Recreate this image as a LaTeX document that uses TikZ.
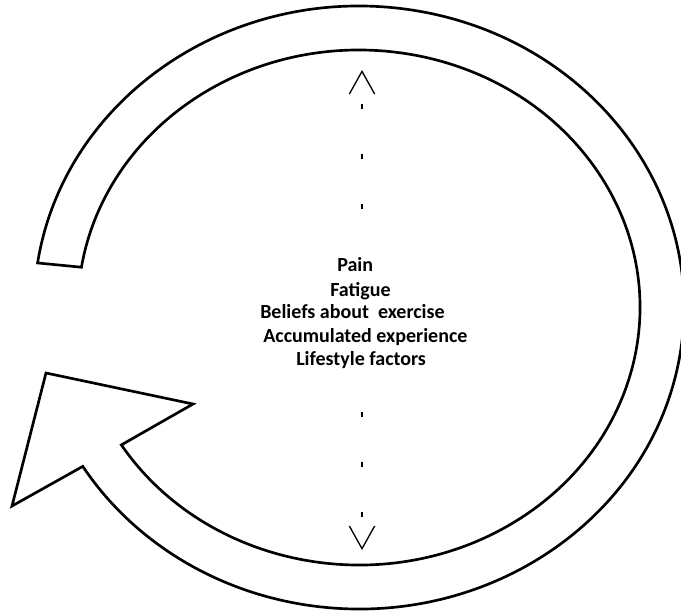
\documentclass[tikz,border=0pt]{standalone}
\usepackage{fontspec}
\setmainfont{Carlito}
\usepackage{xcolor}
\usepackage{tikz}
\usetikzlibrary{arrows.meta,calc}
\tikzset{
  ring/.style={draw=black, line width=2pt, line join=miter, fill=white},
  factor/.style={anchor=base west, inner sep=0pt, font=\fontsize{15}{18}\selectfont\bfseries},
  dasharrow/.style={-{Straight Barb[length=17pt, width=19pt, line width=1pt]}, draw=black, line width=0.9pt, dash pattern=on 4pt off 33.5pt}
}

\begin{document}
\begin{tikzpicture}[x=0.75pt, y=-0.75pt]
\useasboundingbox (0,0) rectangle (681,611);
\coordinate (ctr) at (359,307.5);
% circular arrow
\draw[ring] ($(ctr)+(188.5:325 and 301.5)$)
  arc[start angle=188.5, end angle=508.2, x radius=325, y radius=301.5]
  -- (12,506) -- (46,373) -- (193,404)
  -- ($(ctr)+(147.75:281 and 257.5)$)
  arc[start angle=147.75, end angle=-171, x radius=281, y radius=257.5]
  -- cycle;
% factors
\node[factor] (pain) at (337,271) {Pain};
\node[factor] (fatigue) at (330,296) {Fatigue};
\node[factor] (beliefs) at (260,318) {Beliefs about~ exercise};
\node[factor] (accum) at (263,342) {Accumulated experience};
\node[factor] (lifestyle) at (296,365) {Lifestyle factors};
% dashed arrows
\coordinate (upS) at (362,209);
\coordinate (upE) at (362,70);
\coordinate (downS) at (362,412);
\coordinate (downE) at (362,550);
\draw[dasharrow] (upS) -- (upE);
\draw[dasharrow] (downS) -- (downE);
\end{tikzpicture}
\end{document}
